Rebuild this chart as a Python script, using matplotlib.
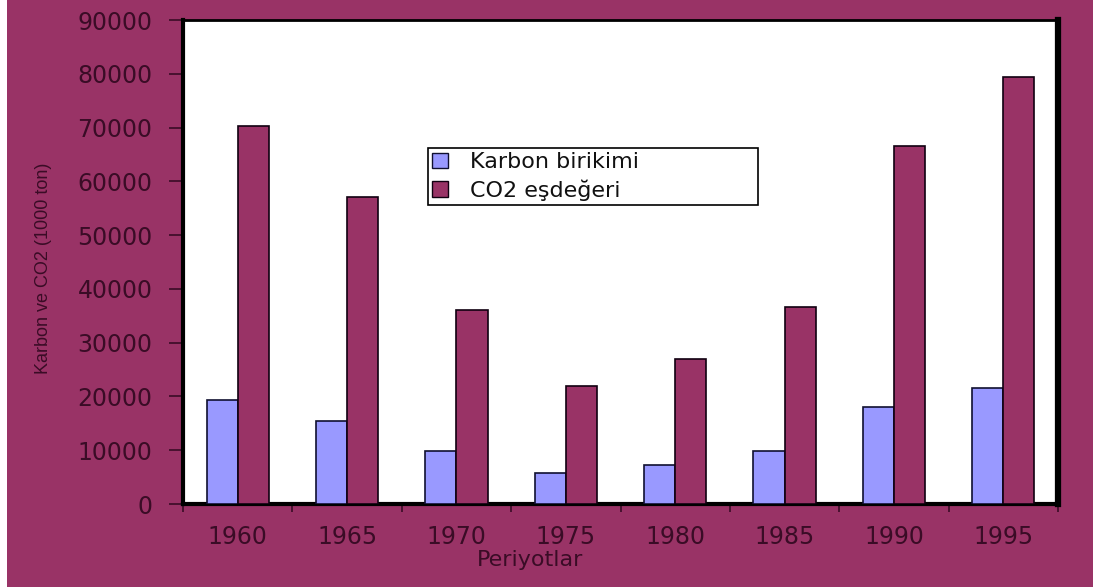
import matplotlib
matplotlib.use("Agg")
import matplotlib.pyplot as plt
import numpy as np
from matplotlib.patches import Patch

# Data (1000 ton)
periods = ["1960", "1965", "1970", "1975", "1980", "1985", "1990", "1995"]
karbon_birikimi = [19300, 15500, 9900, 5800, 7300, 9900, 18100, 21500]
co2_esdegeri = [70200, 57000, 36000, 22000, 27000, 36600, 66500, 79400]
y_ticks = [0, 10000, 20000, 30000, 40000, 50000, 60000, 70000, 80000, 90000]

BG = "#993366"
BLUE = "#9999FF"
MAROON = "#993366"
TXT = "#3a0c26"

plt.rcParams["font.family"] = ["DejaVu Sans"]

fig = plt.figure(figsize=(10.93, 5.87), dpi=100, facecolor=BG)
# thin white strip on the left edge
fig.patches.append(plt.Rectangle((0, 0), 7 / 1093, 1, transform=fig.transFigure,
                                 facecolor="white", edgecolor="none", zorder=-5))

ax = fig.add_axes([183 / 1093, 1 - 504 / 587, (1058 - 183) / 1093, (504 - 20) / 587])
ax.set_facecolor("white")

x = np.arange(len(periods))
w = 0.285
ax.bar(x - w / 2, karbon_birikimi, width=w, color=BLUE, edgecolor="#101030",
       linewidth=1.2, zorder=3)
ax.bar(x + w / 2, co2_esdegeri, width=w, color=MAROON, edgecolor="#100010",
       linewidth=1.2, zorder=3)

ax.set_xlim(-0.5, len(periods) - 0.5)
ax.set_ylim(0, 90000)
ax.set_yticks(y_ticks)
ax.set_yticklabels([str(v) for v in y_ticks])
ax.set_xticks(x)
ax.set_xticklabels(periods)
ax.set_xticks(np.arange(-0.5, len(periods)), minor=True)

ax.tick_params(axis="y", which="major", direction="out", length=10, width=1.2,
               color=TXT, labelcolor=TXT, labelsize=17, pad=12)
ax.tick_params(axis="x", which="major", length=0, labelcolor=TXT,
               labelsize=17, pad=15)
ax.tick_params(axis="x", which="minor", direction="out", length=6, width=1.2,
               color=TXT)

for side, lw in (("left", 3.0), ("bottom", 3.0), ("top", 2.0), ("right", 4.5)):
    ax.spines[side].set_linewidth(lw)
    ax.spines[side].set_color("black")

fig.text(44 / 1093, 1 - 268 / 587, "Karbon ve CO2 (1000 ton)", rotation=90,
         ha="center", va="center", color=TXT, fontsize=13,
         family="Liberation Sans")
fig.text(530 / 1093, 1 - 560 / 587, "Periyotlar", ha="center", va="center",
         color=TXT, fontsize=16)

handles = [Patch(facecolor=BLUE, edgecolor="#101030", linewidth=1.0),
           Patch(facecolor=MAROON, edgecolor="#100010", linewidth=1.0)]
leg = fig.legend(handles, ["Karbon birikimi", "CO2 eşdeğeri"],
                 loc="upper left",
                 bbox_to_anchor=(428 / 1093, 1 - 208 / 587, 330 / 1093, 60 / 587),
                 mode="expand",
                 frameon=True, fancybox=False, shadow=False,
                 prop={"family": "DejaVu Sans", "size": 16},
                 handlelength=0.7, handleheight=0.7, handletextpad=1.0,
                 borderpad=0.2, labelspacing=0.3, borderaxespad=0)
leg.get_frame().set_edgecolor("black")
leg.get_frame().set_linewidth(1.2)
leg.get_frame().set_facecolor("white")
leg.get_frame().set_alpha(1)
for t in leg.get_texts():
    t.set_color("#111111")

fig.savefig("out.png", dpi=100, facecolor=BG)
